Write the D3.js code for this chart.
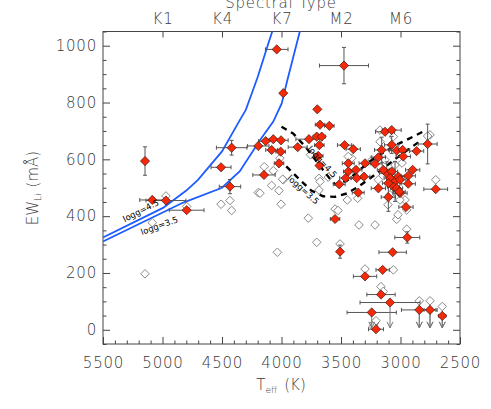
<!DOCTYPE html>
<html><head><meta charset="utf-8">
<script src="https://cdn.jsdelivr.net/npm/d3@7"></script>
<style>
html,body{margin:0;padding:0;background:#fff;}
text{font-family:"DejaVu Sans",sans-serif;}
</style></head>
<body>
<svg id="c" width="491" height="409"></svg>
<script>
// ---- data ----
const filledTeff  = [5147,4040,3985,4419,4508,4433,4195,4133,4069,4004,3864,4083,4007,4021,4147,5086,4971,4797,3475,3699,3676,3598,3769,3704,3662,3682,3470,3397,3130,3074,2772,3158,3074,3032,2982,2865,2977,3691,3186,3439,3439,3374,3298,3214,3307,3368,3461,3515,3186,3355,3102,3550,2898,2935,2935,3004,2954,2704,3116,3074,3088,3046,3060,3032,3102,3018,3145,3004,3010,3681,3508,2943,3066,3150,3298,3164,3088,3242,2842,2752,2649,3206];
const filledEW    = [594,987,833,641,572,504,647,664,671,667,643,633,627,586,545,457,455,421,930,776,722,718,671,680,680,650,650,636,697,703,654,633,651,631,633,629,610,612,607,586,557,563,586,584,539,534,534,512,498,483,467,390,563,542,514,481,432,495,551,557,534,522,504,498,516,539,563,528,486,578,275,325,273,211,188,124,96,61,70,70,49,2];
const filledXerr  = [0,95,0,128,84,90,90,60,60,60,80,50,40,40,94,105,168,146,206,0,40,40,110,30,30,40,60,60,80,80,80,60,60,60,60,60,60,40,60,50,40,50,50,60,50,50,50,50,60,50,60,40,60,60,60,60,60,100,60,50,50,50,50,50,50,50,50,50,50,0,0,105,115,56,98,119,252,207,150,50,30,63];
const filledYerr  = [50,5,0,26,0,25,0,0,0,0,0,0,0,0,0,0,0,0,64,0,0,0,0,0,0,0,0,0,0,0,70,45,30,0,0,0,0,0,0,0,0,0,0,0,0,0,0,0,0,0,50,0,0,0,0,0,0,0,40,0,0,70,0,0,0,0,0,0,0,0,23,20,0,0,0,0,0,0,0,0,0,0];
const filledLimit = [0,0,0,0,0,0,0,0,0,0,0,0,0,0,0,0,0,0,0,0,0,0,0,0,0,0,0,0,0,0,0,0,0,0,0,0,0,0,0,0,0,0,0,0,0,0,0,0,0,0,0,0,0,0,0,0,0,0,0,0,0,0,0,0,0,0,0,0,0,0,0,0,0,0,0,0,1,1,1,1,1,0];

const openTeff  = [4971,5086,4797,5147,4508,4433,4419,4195,4083,4021,4004,4035,4013,4145,4069,3985,4181,3775,3685,3685,3607,3447,3360,3550,3525,3349,3214,3032,2948,3704,3508,3298,3060,3164,3145,2842,2752,2649,3206,3229,3186,3410,3172,3060,2752,2704,3172,2772,3439,3756,2962,2948,3130,3046,3088,3004,2987,3239,3105,3021,3676,3990];
const openEW    = [471,377,434,197,442,455,420,483,508,490,442,273,604,574,560,528,481,393,533,492,537,457,463,425,420,369,369,389,354,308,302,214,211,152,135,102,102,82,32,12,528,604,662,680,686,528,703,682,610,616,457,422,598,580,475,457,587,598,440,405,522,530];
const openLimit = [0,0,0,0,0,0,0,0,0,0,0,0,0,0,0,0,0,0,0,0,0,0,0,0,0,0,0,0,0,0,0,0,0,0,0,1,1,1,1,1,0,0,0,0,0,0,0,0,0,0,0,0,0,0,0,0,0,0,0,0,0,0];

// model tracks
const blue45Teff = [5500,4996,4800,4702,4500,4349,4300,4240,4200,4110,4070];
const blue45EW   = [325,429,490,528,628,739,774,843,890,1009,1060];
const blue35Teff = [5500,4830,4500,4350,4180,4069,3998,3985,3950,3910,3840];
const blue35EW   = [311,447,500,558,668,733,797,820,880,945,1060];
const dash45Teff = [4000,3900,3800,3700,3600,3550,3450,3350,3250,3150,3050,2950,2800];
const dash45EW   = [715,690,645,590,535,512,525,560,595,622,648,668,700];
const dash35Teff = [3960,3850,3750,3650,3550,3450,3350,3250,3150,3050,2950,2850];
const dash35EW   = [575,530,490,470,468,480,505,535,565,600,630,660];

const xMajor = [5500,5000,4500,4000,3500,3000,2500];
const yMajor = [0,200,400,600,800,1000];
const spTeff = [5000,4500,4000,3500,3000];
const spLabels = ["K1","K4","K7","M2","M6"];

// ---- layout ----
const L=103,R=460,T=31.5,B=344;
const svg=d3.select("#c");
const x=d3.scaleLinear().domain([5500,2500]).range([L,R]);
const y=d3.scaleLinear().domain([-50,1050]).range([B,T]);
const axisCol="#444", txtCol="#3a3a3a";
const FS=15;

svg.append("defs").append("clipPath").attr("id","clip")
  .append("rect").attr("x",L).attr("y",T).attr("width",R-L).attr("height",B-T);

function styleAxis(g){
  g.select(".domain").remove();
  g.selectAll("line").attr("stroke",axisCol).attr("stroke-width",1);
  g.selectAll("text").attr("fill",txtCol).attr("font-size",FS)
    .attr("font-family","DejaVu Sans").attr("font-weight",200).attr("letter-spacing",0.8);
}
const xMinor=d3.range(2600,5500,100).filter(v=>v%500!==0);
const yMinor=d3.range(-50,1051,50).filter(v=>v%200!==0);

// bottom
svg.append("g").attr("transform",`translate(0,${B})`)
  .call(d3.axisBottom(x).tickValues(xMajor).tickSize(-7).tickPadding(13).tickFormat(d3.format("d"))).call(styleAxis);
svg.append("g").attr("transform",`translate(0,${B})`)
  .call(d3.axisBottom(x).tickValues(xMinor).tickSize(-3.5).tickFormat("")).call(styleAxis);
// top
svg.append("g").attr("transform",`translate(0,${T})`)
  .call(d3.axisTop(x).tickValues(spTeff).tickSize(-6).tickPadding(8).tickFormat((d,i)=>spLabels[i])).call(styleAxis);
// left
svg.append("g").attr("transform",`translate(${L},0)`)
  .call(d3.axisLeft(y).tickValues(yMajor).tickSize(-7).tickPadding(6).tickFormat(d3.format("d"))).call(styleAxis);
svg.append("g").attr("transform",`translate(${L},0)`)
  .call(d3.axisLeft(y).tickValues(yMinor).tickSize(-3.5).tickFormat("")).call(styleAxis);
// right
svg.append("g").attr("transform",`translate(${R},0)`)
  .call(d3.axisRight(y).tickValues(yMajor).tickSize(-7).tickFormat("")).call(styleAxis);
svg.append("g").attr("transform",`translate(${R},0)`)
  .call(d3.axisRight(y).tickValues(yMinor).tickSize(-3.5).tickFormat("")).call(styleAxis);

// frame
svg.append("rect").attr("x",L).attr("y",T).attr("width",R-L).attr("height",B-T)
  .attr("fill","none").attr("stroke",axisCol).attr("stroke-width",1);

// titles
svg.append("text").attr("x",281).attr("y",8).attr("text-anchor","middle")
  .attr("font-size",FS).attr("font-weight",200).attr("fill",txtCol).attr("letter-spacing",0.8).text("Spectral Type");
const xt=svg.append("text").attr("x",281).attr("y",390).attr("text-anchor","middle")
  .attr("font-size",FS).attr("font-weight",200).attr("fill",txtCol);
xt.append("tspan").text("T");
xt.append("tspan").attr("font-size",9).attr("dy",3).text("eff");
xt.append("tspan").attr("dy",-3).attr("dx",7).text("(K)");
const yt=svg.append("text").attr("transform","translate(38,188) rotate(-90)").attr("text-anchor","middle")
  .attr("font-size",FS).attr("font-weight",200).attr("fill",txtCol);
yt.append("tspan").text("EW");
yt.append("tspan").attr("font-size",9).attr("dy",3).text("Li");
yt.append("tspan").attr("dy",-3).attr("dx",6).text("(mÅ)");

// plot group
const pg=svg.append("g").attr("clip-path","url(#clip)");
const line=d3.line().x(d=>x(d[0])).y(d=>y(d[1]));
function pts(a,b){return a.map((v,i)=>[v,b[i]]);}
pg.append("path").datum(pts(blue45Teff,blue45EW)).attr("d",line).attr("fill","none").attr("stroke","#1f5cff").attr("stroke-width",1.8);
pg.append("path").datum(pts(blue35Teff,blue35EW)).attr("d",line).attr("fill","none").attr("stroke","#1f5cff").attr("stroke-width",1.8);

// open diamonds
const dia=r=>`M0,${-r}L${r},0L0,${r}L${-r},0Z`;
const arrowCol="#777";
function arrow(g,t,ew){
  const px=x(t), y0=y(ew), y1=y(7);
  g.append("line").attr("x1",px).attr("x2",px).attr("y1",y0).attr("y2",y1).attr("stroke",arrowCol).attr("stroke-width",1);
  g.append("path").attr("d",`M${px-3},${y1-6}L${px},${y1}L${px+3},${y1-6}`).attr("fill","none").attr("stroke",arrowCol).attr("stroke-width",1);
}
openTeff.forEach((t,i)=>{ if(openLimit[i]) arrow(pg,t,openEW[i]); });
pg.selectAll(".op").data(pts(openTeff,openEW)).join("path").attr("class","op")
  .attr("transform",d=>`translate(${x(d[0])},${y(d[1])})`).attr("d",dia(4.3))
  .attr("fill","#fff").attr("stroke","#7a7a7a").attr("stroke-width",0.9);

// dashed tracks
pg.append("path").datum(pts(dash45Teff,dash45EW)).attr("d",line).attr("fill","none").attr("stroke","#000").attr("stroke-width",2.4).attr("stroke-dasharray","6,5");
pg.append("path").datum(pts(dash35Teff,dash35EW)).attr("d",line).attr("fill","none").attr("stroke","#000").attr("stroke-width",2.4).attr("stroke-dasharray","6,5");

// error bars
const eb=pg.append("g").attr("stroke","#555").attr("stroke-width",1);
filledTeff.forEach((t,i)=>{
  const px=x(t), py=y(filledEW[i]), xe=filledXerr[i], ye=filledYerr[i];
  if(xe>0){
    const a=x(t+xe), b=x(t-xe);
    eb.append("line").attr("x1",a).attr("x2",b).attr("y1",py).attr("y2",py);
    eb.append("line").attr("x1",a).attr("x2",a).attr("y1",py-2).attr("y2",py+2);
    eb.append("line").attr("x1",b).attr("x2",b).attr("y1",py-2).attr("y2",py+2);
  }
  if(ye>0){
    const a=y(filledEW[i]+ye), b=y(filledEW[i]-ye);
    eb.append("line").attr("x1",px).attr("x2",px).attr("y1",a).attr("y2",b);
    eb.append("line").attr("x1",px-2).attr("x2",px+2).attr("y1",a).attr("y2",a);
    eb.append("line").attr("x1",px-2).attr("x2",px+2).attr("y1",b).attr("y2",b);
  }
  if(filledLimit[i]) arrow(pg,t,filledEW[i]);
});
pg.selectAll(".fp").data(pts(filledTeff,filledEW)).join("path").attr("class","fp")
  .attr("transform",d=>`translate(${x(d[0])},${y(d[1])})`).attr("d",dia(4.6))
  .attr("fill","#f5280a").attr("stroke","#3a1a10").attr("stroke-width",0.7);

// curve labels
function lab(t,ew,ang,txt){
  svg.append("text").attr("transform",`translate(${x(t)},${y(ew)}) rotate(${ang})`)
    .attr("text-anchor","middle").attr("dominant-baseline","middle")
    .attr("font-size",8.5).attr("fill","#000").text(txt);
}
lab(5180,418,-27,"logg=4.5");
lab(5025,365,-20,"logg=3.5");
lab(3660,590,48,"logg=4.5");
lab(3820,492,42,"logg=3.5");
</script>
</body></html>
